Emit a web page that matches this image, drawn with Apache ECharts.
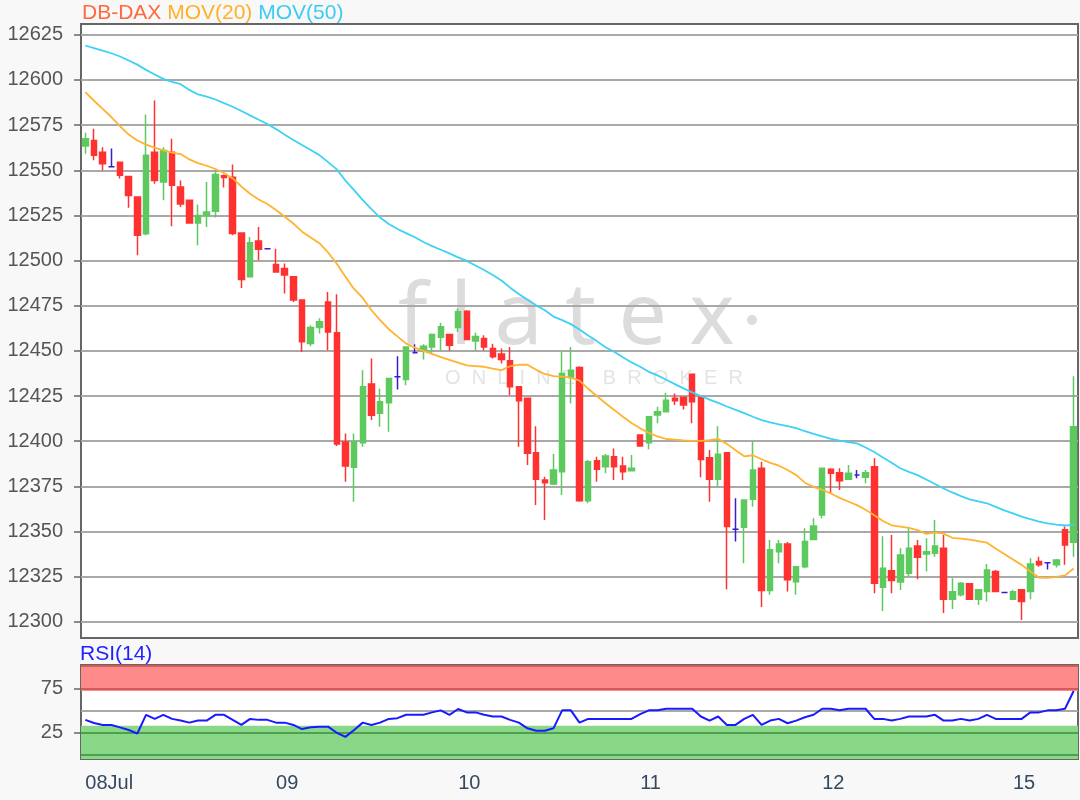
<!DOCTYPE html>
<html>
<head>
<meta charset="utf-8">
<title>DB-DAX</title>
<script src="https://cdn.jsdelivr.net/npm/echarts@6/dist/echarts.min.js"></script>
<style>
  html, body { margin: 0; padding: 0; background: #f8f8f8; }
  #chart { width: 1080px; height: 800px; }
</style>
</head>
<body>
<div id="chart"></div>
<script>
const FONT = "'Liberation Sans', Arial, sans-serif";

// trading days and the bar index where each one starts
const days = ['08Jul', '09', '10', '11', '12', '15'];
const dayStart = [0, 22, 43, 64, 85, 107];

// OHLC per bar
const open = [
  12563.5, 12566.5, 12560, 12552, 12554.5, 12546.6, 12535.2, 12514.9, 12560, 12543.5,
  12560, 12540.7, 12533.4, 12520.8, 12525, 12527.3, 12547, 12546.2, 12515.3, 12491,
  12510.9, 12506.5, 12497.8, 12495.6, 12491, 12478.1, 12454.1, 12463, 12477.1, 12460,
  12399.6, 12385.5, 12399.1, 12431.6, 12415.4, 12421.2, 12435.6, 12434.2, 12449, 12450,
  12452.2, 12457.6, 12459, 12463, 12472, 12455.5, 12456.9, 12451.3, 12448.2, 12444.5,
  12430.1, 12423.7, 12393.6, 12378.5, 12376.3, 12383.1, 12435.3, 12440.8, 12367, 12389.2,
  12385.8, 12391.4, 12386.2, 12383.6, 12403.4, 12399.1, 12414.5, 12416.3, 12423.7, 12424.3,
  12437.1, 12424.3, 12390.8, 12378.9, 12393.6, 12351.2, 12352.3, 12367.8, 12385, 12317.3,
  12338.8, 12343.1, 12322.2, 12330.5, 12345.6, 12359.1, 12384.4, 12382.5, 12378.9, 12381.2,
  12380, 12385.8, 12319.1, 12328.3, 12322, 12326.9, 12342, 12337.5, 12337.9, 12340.7,
  12312.5, 12314.9, 12321, 12312.5, 12316.7, 12327.8, 12316.2, 12312.5, 12317.7, 12316.7,
  12333.3, 12332.7, 12331.5, 12351, 12344
];
const close = [
  12567.5, 12558.3, 12553.6, 12552, 12547.2, 12536.1, 12514, 12558.3, 12544.4, 12561,
  12541.7, 12531.3, 12520.8, 12525, 12526.9, 12547.6, 12546, 12515, 12489.5, 12509.8,
  12506.3, 12506.5, 12493.7, 12492, 12478.1, 12455, 12463, 12466.1, 12460.5, 12398.4,
  12386.2, 12399.6, 12430.1, 12414.4, 12421.8, 12434.7, 12435.6, 12452.2, 12449, 12452.6,
  12459, 12463.3, 12453.1, 12471.6, 12456.3, 12458, 12452.2, 12446.7, 12445.2, 12430.1,
  12422.4, 12393.3, 12378.9, 12377, 12384, 12437.5, 12439.3, 12367, 12388.6, 12384.4,
  12391.8, 12385.8, 12383.1, 12385, 12397.3, 12413.5, 12416.3, 12422.7, 12422.4, 12420,
  12421.8, 12389.9, 12378.9, 12392.7, 12352.7, 12351.2, 12367.4, 12384, 12317.3, 12339.8,
  12343.1, 12323.2, 12330.5, 12344.4, 12353, 12385, 12382.2, 12378.1, 12382.2, 12381.2,
  12382.5, 12321.3, 12329.6, 12322.8, 12337, 12340.7, 12335.7, 12338.8, 12342, 12312.5,
  12316.6, 12321.3, 12312.5, 12317.7, 12328.7, 12316.7, 12316.2, 12316.6, 12311.2, 12332,
  12331.5, 12332.7, 12334.2, 12342.5, 12408
];
const low = [
  12559.2, 12555.5, 12550, 12552, 12545.4, 12529.3, 12503, 12514, 12542.6, 12533.4,
  12519, 12529.6, 12520.8, 12508.5, 12518.6, 12523.8, 12540.4, 12514, 12484.8, 12490.6,
  12500.2, 12506.5, 12493.7, 12481.8, 12477.1, 12449.4, 12452.5, 12459.6, 12450.4, 12397.3,
  12377.5, 12366.5, 12396.9, 12411.7, 12408, 12405.2, 12428.6, 12431, 12449, 12445.2,
  12448.6, 12450, 12450, 12460.5, 12456.3, 12450.4, 12450.4, 12445.8, 12443, 12425.5,
  12396.9, 12386.8, 12364.7, 12356.4, 12375.7, 12370.2, 12420.9, 12366.5, 12365.6, 12377.5,
  12382.2, 12378.5, 12378.5, 12383.6, 12397.3, 12395.5, 12409.9, 12416.3, 12420, 12417.6,
  12409.9, 12380, 12366.5, 12374.8, 12318, 12344.4, 12332.4, 12363.7, 12308.1, 12314.9,
  12332.4, 12316.7, 12314.9, 12329.6, 12345.3, 12357.3, 12371.5, 12373, 12378.5, 12379.4,
  12376.7, 12315.8, 12305.9, 12315.8, 12317.6, 12325.4, 12323.6, 12327.8, 12336, 12304.8,
  12307, 12314, 12312.5, 12309.3, 12311.2, 12316.7, 12316.2, 12312, 12301, 12312.5,
  12330.5, 12329, 12330, 12331.5, 12336
];
const high = [
  12570.8, 12573, 12562.8, 12562, 12554.5, 12546.6, 12535.2, 12580.9, 12588.7, 12562.8,
  12567.5, 12544.4, 12533.4, 12531.1, 12543.5, 12550, 12547.6, 12553.2, 12515.3, 12513,
  12518.6, 12506.5, 12506.6, 12498.4, 12491, 12478.1, 12464, 12468, 12482.6, 12481.4,
  12404.3, 12404.3, 12439.3, 12445.8, 12429.2, 12434.7, 12447, 12452.2, 12453.7, 12453.7,
  12459.6, 12465.5, 12459, 12473.4, 12472.5, 12460, 12458.7, 12454, 12451.3, 12452.2,
  12430.1, 12423.7, 12408.3, 12380.3, 12392.9, 12449.8, 12452.2, 12441.5, 12389.5, 12391.4,
  12392.9, 12396, 12391.4, 12392.3, 12403.4, 12413.5, 12419.1, 12426.8, 12426.4, 12424.3,
  12437.1, 12424.3, 12395.1, 12408.3, 12393.6, 12368.4, 12367.8, 12400, 12388.6, 12345.3,
  12345.3, 12344.1, 12330.9, 12351.8, 12357.3, 12385, 12385, 12385, 12386.8, 12384,
  12384, 12390.5, 12347.4, 12348.1, 12340.7, 12351.8, 12345.3, 12346.2, 12356.4, 12348.1,
  12324.1, 12322, 12321, 12317.7, 12332, 12328.7, 12316.2, 12317.7, 12317.7, 12335.2,
  12336, 12332.7, 12334.8, 12352.8, 12436
];

// moving averages as drawn on the picture
const ma20 = [
  12593.3, 12588.5, 12584, 12579.5, 12574.5, 12569.8, 12566.5, 12564.2, 12562.5, 12561,
  12559.8, 12559, 12556, 12554, 12552.5, 12550.7, 12548.5, 12545.5, 12541, 12537,
  12533.8, 12531.3, 12528, 12524.3, 12520.5, 12516, 12512.8, 12509.6, 12504.5, 12498.2,
  12491, 12484.3, 12479.3, 12472.5, 12467, 12462, 12458, 12454, 12451.8, 12450,
  12448.3, 12446.5, 12445, 12443.5, 12442, 12441.6, 12441.2, 12440.2, 12439.3, 12441.5,
  12442.3, 12442.3, 12439.5, 12437.2, 12436, 12435.7, 12435.2, 12433.5, 12429, 12425,
  12421, 12417.3, 12413.5, 12410, 12407.1, 12404.6, 12402.6, 12401.2, 12400.8, 12400.4,
  12400.2, 12400.2, 12400.6, 12401.2, 12398.5, 12395, 12391.6, 12392.2, 12390, 12388,
  12386.4, 12384, 12381.2, 12377, 12374.7, 12373, 12371, 12368.6, 12366.6, 12364.6,
  12362, 12359, 12355.8, 12353.4, 12352.7, 12352, 12350.7, 12348.6, 12349.3, 12348.8,
  12346.5, 12346, 12345.5, 12344.7, 12343.8, 12340.5, 12337.5, 12334.5, 12331.5, 12327.8,
  12324.5, 12324.3, 12324.8, 12325.7, 12329.5
];
const ma50 = [
  12619.1, 12617.7, 12616.2, 12614.8, 12613, 12610.8, 12608.5, 12605.6, 12603, 12600.6,
  12599, 12597.7, 12594.5, 12592, 12590.8, 12589.2, 12587.2, 12585.2, 12582.8, 12580.4,
  12578, 12575.6, 12572.8, 12569.7, 12566.8, 12564, 12561.2, 12558.4, 12554.5, 12550.5,
  12544.3, 12539, 12533.5, 12528.5, 12523.8, 12520.3, 12517.5, 12515.2, 12512.9, 12510.3,
  12508, 12506, 12504, 12501.8, 12499.8, 12497.3, 12494.8, 12492, 12489, 12485,
  12481.5, 12478.3, 12475.2, 12472.5, 12469, 12467, 12464.8, 12461.8, 12458.5, 12455.4,
  12452, 12449.5, 12446.5, 12443.6, 12441.2, 12438.4, 12436.4, 12434, 12431.6, 12429.2,
  12427, 12425, 12423, 12421.2, 12419.2, 12417.3, 12415.5, 12413.5, 12411.6, 12410.4,
  12409.3, 12408.3, 12407.2, 12405.5, 12404, 12402.6, 12401.3, 12400.3, 12399.5, 12398.8,
  12396.5, 12394, 12391, 12388, 12385, 12383, 12381.2, 12378.8, 12376.3, 12373.8,
  12371.6, 12369.6, 12367.8, 12366.6, 12365.6, 12363.6, 12361.7, 12360, 12358.2, 12356.8,
  12355.5, 12354.5, 12353.8, 12353.3, 12353.6
];

// RSI(14)
const rsi = [
  39.5, 36, 33.8, 33.8, 31.1, 28.1, 24.2, 45.2, 40.6, 45.2,
  40.6, 38.7, 36.4, 38.7, 38.7, 45.2, 45.2, 39.5, 33.8, 40.6,
  39.5, 39.5, 36.4, 36.4, 33.8, 29.2, 31.1, 31.9, 31.9, 25,
  20.4, 28.1, 36.4, 33.8, 36.4, 40.6, 41.4, 45.2, 45.2, 45.2,
  47.9, 50.2, 45.2, 51.7, 47.9, 47.9, 45.2, 43.3, 43.3, 39.5,
  36.4, 30, 27.3, 27.3, 30, 50.2, 50.2, 36.4, 40.6, 40.6,
  40.6, 40.6, 40.6, 40.6, 46, 50.2, 50.2, 52, 52, 52,
  52, 43.3, 38.7, 43.3, 33.8, 33.8, 40.6, 45.2, 33.8, 38.7,
  40.6, 35.7, 38.7, 42.5, 45.2, 52, 52, 50.2, 52, 52,
  52, 40.6, 40.6, 38.7, 40.6, 43.3, 43.3, 43.3, 45.2, 38.7,
  38.7, 40.6, 38.7, 40.6, 45.2, 40.6, 40.6, 40.6, 40.6, 47.9,
  47.9, 50.2, 50.2, 52, 72
];

const priceTicks = [12300, 12325, 12350, 12375, 12400, 12425, 12450, 12475, 12500, 12525, 12550, 12575, 12600, 12625];
const rsiTicks = [25, 75];
const rsiRedLines = [100, 75];
const rsiMidLines = [50];
const rsiGreenLines = [25, 0];
const rsiRedZone = [72, 101.2];
const rsiGreenZone = [-4.5, 33];

const UP = '#5ec95e', DOWN = '#ff3131', DOJI = '#3a1ccf';

// one category per bar, named after its day
const categories = open.map((v, i) => {
  let d = 0;
  while (d + 1 < dayStart.length && dayStart[d + 1] <= i) d++;
  return days[d] + '|' + (i - dayStart[d]);
});
const isDayStart = (idx) => dayStart.indexOf(idx) >= 0;

const candles = open.map((o, i) => {
  const v = [o, close[i], low[i], high[i]];
  if (o === close[i]) {
    return { value: v, itemStyle: { color: DOJI, color0: DOJI, borderColor: DOJI, borderColor0: DOJI } };
  }
  return v;
});

const chart = echarts.init(document.getElementById('chart'));
const option = {
  animation: false,
  backgroundColor: '#f8f8f8',
  textStyle: { fontFamily: FONT },
  title: [{
    left: 82, top: 3, padding: 0,
    text: '{a|DB-DAX} {b|MOV(20)} {c|MOV(50)}',
    textStyle: {
      fontSize: 21, fontWeight: 'normal', fontFamily: FONT,
      rich: {
        a: { color: '#ff6a3d', fontSize: 21, fontFamily: FONT },
        b: { color: '#ffb02a', fontSize: 21, fontFamily: FONT },
        c: { color: '#3ccbf2', fontSize: 21, fontFamily: FONT }
      }
    }
  }, {
    left: 80, top: 644, padding: 0,
    text: 'RSI(14)',
    textStyle: { color: '#1f1fff', fontSize: 21, fontWeight: 'normal', fontFamily: FONT }
  }],
  graphic: [{
    type: 'text', left: 398, top: 276, z: 1, silent: true,
    style: { text: 'f l a t e x', fontSize: 86, fontFamily: "'Noto Sans'", fill: '#dcdcdc' }
  }, {
    type: 'circle', z: 1, silent: true,
    shape: { cx: 752, cy: 320, r: 5 },
    style: { fill: '#dcdcdc' }
  }, {
    type: 'text', left: 445, top: 368, z: 1, silent: true,
    style: { text: 'O  N  L  I  N  E     B  R  O  K  E  R', fontSize: 20, fontFamily: FONT, fill: '#e4e4e4' }
  }],
  grid: [
    { left: 81, top: 24, right: 2, height: 614, show: true, backgroundColor: '#fff', borderColor: '#666', borderWidth: 2 },
    { left: 81, top: 665, right: 2, height: 94, show: true, backgroundColor: '#fff', borderColor: '#666', borderWidth: 2 }
  ],
  xAxis: [{
    type: 'category', gridIndex: 0, data: categories, boundaryGap: true, show: false
  }, {
    type: 'category', gridIndex: 1, data: categories, boundaryGap: true,
    axisLine: { show: false },
    axisTick: { alignWithLabel: true, interval: isDayStart, length: 7, lineStyle: { color: '#34495e', width: 1.5 } },
    axisLabel: {
      interval: isDayStart, align: 'left', margin: 14, fontSize: 20, color: '#34495e', fontFamily: FONT,
      formatter: (v) => v.split('|')[0]
    },
    splitLine: { show: false }
  }],
  yAxis: [{
    type: 'value', gridIndex: 0, min: 12291, max: 12631,
    axisLine: { show: false },
    splitLine: { show: false },
    axisTick: { show: true, length: 7, customValues: priceTicks, lineStyle: { color: '#666', width: 1.5 } },
    axisLabel: { customValues: priceTicks, margin: 18, fontSize: 20, color: '#555', fontFamily: FONT, formatter: (v) => String(v) }
  }, {
    type: 'value', gridIndex: 1, min: -4.5, max: 101.2,
    axisLine: { show: false },
    splitLine: { show: false },
    axisTick: { show: true, length: 7, customValues: rsiTicks, lineStyle: { color: '#666', width: 1.5 } },
    axisLabel: { customValues: rsiTicks, margin: 18, fontSize: 20, color: '#555', fontFamily: FONT, formatter: (v) => String(v) }
  }],
  series: [{
    name: 'DB-DAX',
    type: 'candlestick',
    xAxisIndex: 0, yAxisIndex: 0,
    z: 3,
    barWidth: 6,
    data: candles,
    itemStyle: { color: UP, color0: DOWN, borderColor: UP, borderColor0: DOWN, borderWidth: 1.5 },
    markLine: {
      silent: true, symbol: 'none', z: 2,
      label: { show: false },
      lineStyle: { color: '#a9a9a9', width: 2, type: 'solid' },
      data: priceTicks.map(v => ({ yAxis: v }))
    }
  }, {
    name: 'MOV(20)', type: 'line', xAxisIndex: 0, yAxisIndex: 0, z: 4,
    data: ma20, symbol: 'none', smooth: false,
    lineStyle: { color: '#ffb32e', width: 1.8 }
  }, {
    name: 'MOV(50)', type: 'line', xAxisIndex: 0, yAxisIndex: 0, z: 4,
    data: ma50, symbol: 'none', smooth: false,
    lineStyle: { color: '#3dd2f5', width: 1.8 }
  }, {
    name: 'RSI(14)', type: 'line', xAxisIndex: 1, yAxisIndex: 1, z: 4,
    data: rsi, symbol: 'none',
    lineStyle: { color: '#1a1aff', width: 2 },
    markArea: {
      silent: true, z: 1,
      data: [
        [{ yAxis: rsiRedZone[0], itemStyle: { color: '#ff8a8a' } }, { yAxis: rsiRedZone[1] }],
        [{ yAxis: rsiGreenZone[0], itemStyle: { color: '#88d888' } }, { yAxis: rsiGreenZone[1] }]
      ]
    },
    markLine: {
      silent: true, symbol: 'none', z: 2,
      label: { show: false },
      data: [].concat(
        rsiRedLines.map(v => ({ yAxis: v, lineStyle: { color: '#d55a5a', width: 2, type: 'solid' } })),
        rsiMidLines.map(v => ({ yAxis: v, lineStyle: { color: '#a9a9a9', width: 2, type: 'solid' } })),
        rsiGreenLines.map(v => ({ yAxis: v, lineStyle: { color: '#4f9f4f', width: 2, type: 'solid' } }))
      )
    }
  }]
};
chart.setOption(option);
</script>
</body>
</html>
